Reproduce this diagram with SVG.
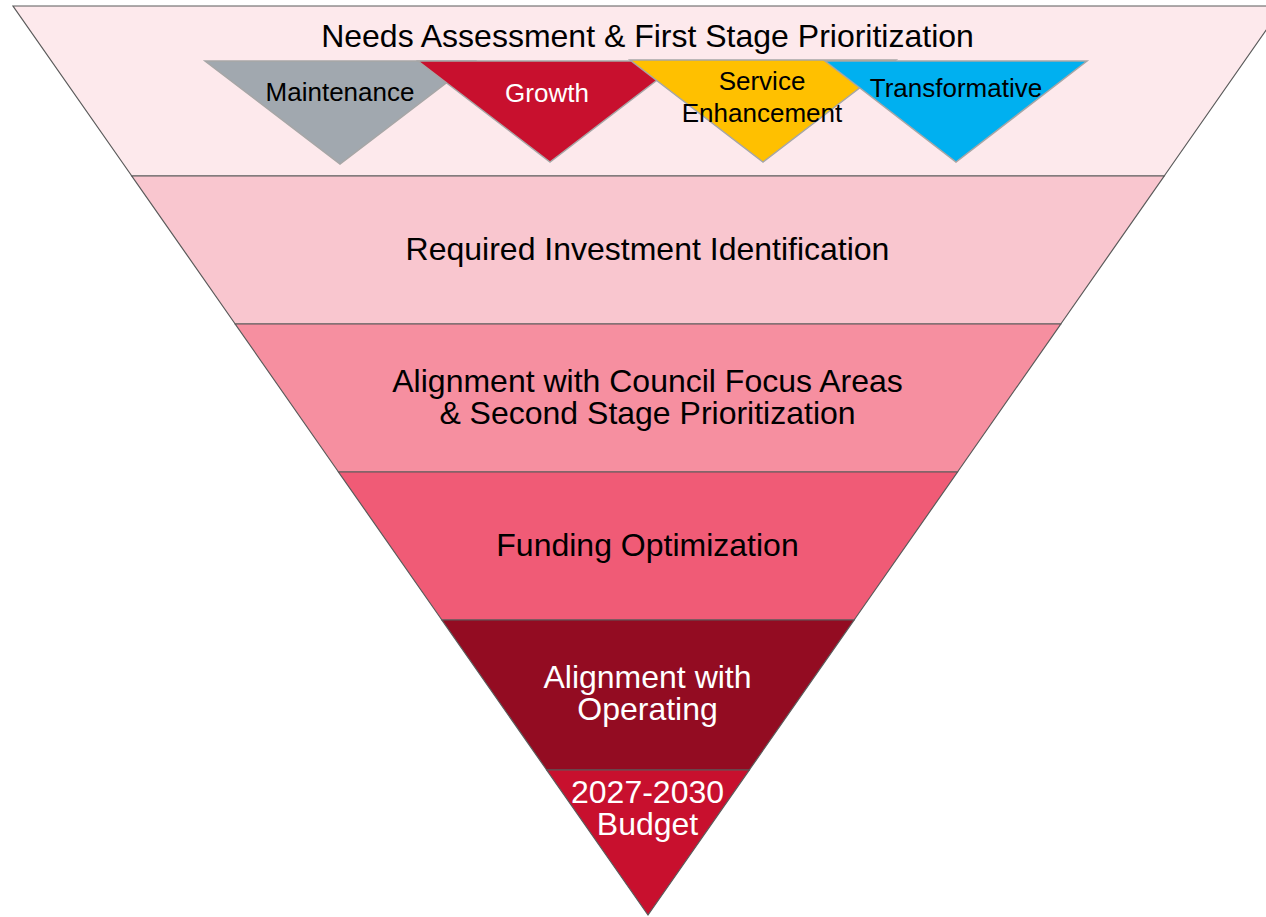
<svg xmlns="http://www.w3.org/2000/svg" width="1266" height="917" viewBox="0 0 1266 917">
<style>
  .layer { stroke: #5a5a5a; stroke-width: 1.2; stroke-linejoin: miter; }
  .tri { stroke: #a6a6a6; stroke-width: 1.5; stroke-linejoin: miter; }
  .big { font-family: "Liberation Sans", Arial, sans-serif; font-size: 32px; text-anchor: middle; fill: #000; }
  .big.w { fill: #ffffff; }
  .small { font-family: "Liberation Sans", Arial, sans-serif; font-size: 26px; text-anchor: middle; fill: #000; }
  .small.w { fill: #ffffff; }
</style>
<rect width="1266" height="917" fill="#ffffff"/>

<g id="layer1">
  <polygon class="layer" points="13,6 1283,6 1164.2,176 131.8,176" fill="#FDE9EC"/>
</g>
<g id="tri-maintenance">
  <polygon class="tri" points="205,61 475,61 340,164" fill="#A1A8AF"/>
  <text class="small" x="340" y="101">Maintenance</text>
</g>
<g id="tri-growth">
  <polygon class="tri" points="418,61 682,61 550,162" fill="#C8102E"/>
  <text class="small w" x="547" y="102">Growth</text>
</g>
<g id="tri-service">
  <polygon class="tri" points="630,60 896,60 763,162" fill="#FFC000"/>
  <text class="small" x="762" y="90">Service</text>
  <text class="small" x="762" y="122">Enhancement</text>
</g>
<g id="tri-transformative">
  <polygon class="tri" points="825,61 1087,61 956,162" fill="#00B0F0"/>
  <text class="small" x="956" y="97">Transformative</text>
</g>
<g id="title">
  <text class="big" x="647.5" y="47">Needs Assessment &amp; First Stage Prioritization</text>
</g>

<g id="layer2">
  <polygon class="layer" points="131.8,176 1164.2,176 1060.8,324 235.2,324" fill="#F9C6CF"/>
  <text class="big" x="647.5" y="260">Required Investment Identification</text>
</g>
<g id="layer3">
  <polygon class="layer" points="235.2,324 1060.8,324 957.5,472 338.5,472" fill="#F68FA0"/>
  <text class="big" x="647.5" y="392">Alignment with Council Focus Areas</text>
  <text class="big" x="647.5" y="424">&amp; Second Stage Prioritization</text>
</g>
<g id="layer4">
  <polygon class="layer" points="338.5,472 957.5,472 854.1,620 441.9,620" fill="#F05B76"/>
  <text class="big" x="647.5" y="556">Funding Optimization</text>
</g>
<g id="layer5">
  <polygon class="layer" points="441.9,620 854.1,620 749.3,770 546.7,770" fill="#930C22"/>
  <text class="big w" x="647.5" y="688">Alignment with</text>
  <text class="big w" x="647.5" y="720">Operating</text>
</g>
<g id="layer6">
  <polygon class="layer" points="546.7,770 749.3,770 648,915" fill="#C8102E"/>
  <text class="big w" x="647.5" y="803">2027-2030</text>
  <text class="big w" x="647.5" y="835">Budget</text>
</g>
<g id="connectors"></g>
</svg>
